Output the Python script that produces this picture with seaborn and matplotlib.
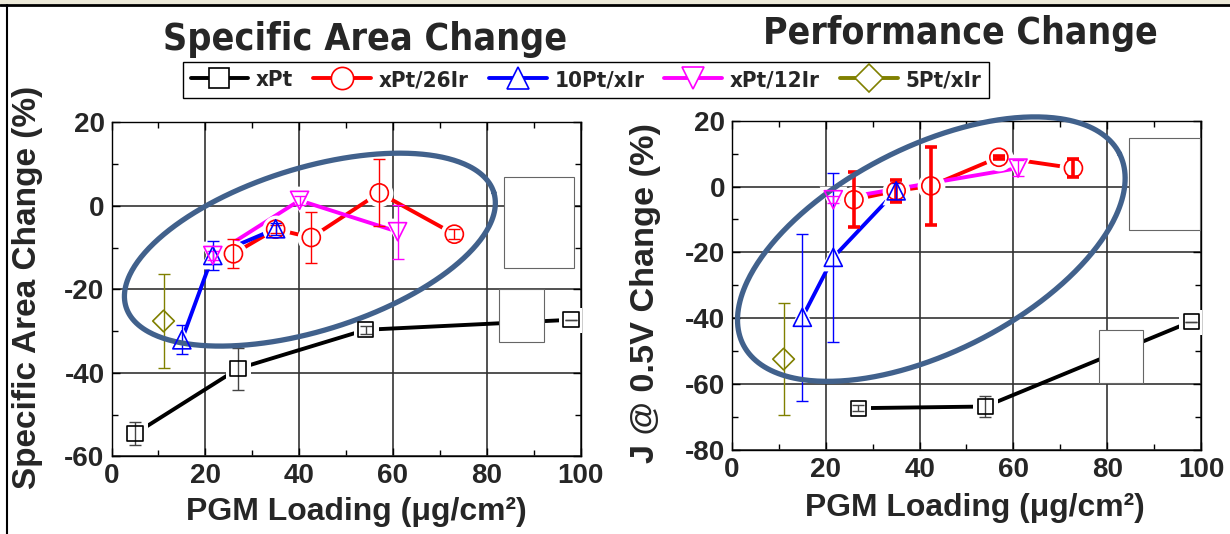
import numpy as np
import matplotlib
matplotlib.use("Agg")
import matplotlib.pyplot as plt
import seaborn as sns
from matplotlib.lines import Line2D
from matplotlib.patches import Rectangle
from matplotlib import font_manager as fm

# ---------------- data ----------------
series_names = ["xPt", "xPt/26Ir", "10Pt/xIr", "xPt/12Ir", "5Pt/xIr"]

# Specific area change (left)
sa_xpt_x = [5.0, 27.0, 54.2, 98.0]
sa_xpt_y = [-54.6, -39.0, -29.7, -27.3]
sa_xpt_e = [2.8, 5.0, 1.0, 0.0]
sa_26_x = [26.0, 35.0, 42.6, 57.1, 73.1]
sa_26_y = [-11.5, -5.6, -7.6, 3.1, -6.8]
sa_26_e = [3.5, 1.0, 6.0, 8.0, 1.2]
sa_10_x = [15.0, 21.6, 35.0]
sa_10_y = [-32.1, -11.9, -5.5]
sa_10_e = [3.5, 3.5, 1.5]
sa_12_x = [21.6, 40.1, 61.0]
sa_12_y = [-11.9, 1.3, -6.2]
sa_12_e = [1.0, 1.0, 6.5]
sa_5_x = [11.1]
sa_5_y = [-27.6]
sa_5_e = [11.2]

# J @ 0.5V change (right)
pc_xpt_x = [26.9, 54.0, 97.9]
pc_xpt_y = [-67.3, -66.8, -41.0]
pc_xpt_e = [1.0, 3.3, 0.0]
pc_26_x = [26.0, 35.0, 42.4, 56.9, 72.8]
pc_26_y = [-4.0, -1.3, 0.2, 8.9, 5.6]
pc_26_e = [8.3, 3.3, 11.8, 0.5, 2.7]
pc_10_x = [15.0, 21.6, 35.0]
pc_10_y = [-39.7, -21.5, -1.3]
pc_10_e = [25.3, 25.6, 2.5]
pc_12_x = [21.6, 61.0]
pc_12_y = [-4.0, 5.6]
pc_12_e = [1.0, 2.5]
pc_5_x = [11.0]
pc_5_y = [-52.4]
pc_5_e = [17.1]

x_ticks = [0, 20, 40, 60, 80, 100]
sa_y_ticks = [-60, -40, -20, 0, 20]
pc_y_ticks = [-80, -60, -40, -20, 0, 20]

# ---------------- styles ----------------
colors = ["#000000", "#ff0000", "#0000ff", "#ff00ff", "#808000"]
markers = ["s", "o", "^", "v", "D"]
msizes = [11, 13, 13, 13, 11]

sns.set_style("ticks")
fonts = fm.fontManager.ttflist
names = {f.name for f in fonts}
base_font = "Liberation Sans" if "Liberation Sans" in names else "DejaVu Sans"

# look for a condensed bold face for the headline-style texts
narrow_font = None
for cand in ["Liberation Sans Narrow", "Noto Sans", "Open Sans", "Roboto", "DejaVu Sans"]:
    for f in fonts:
        if f.name == cand and ("ondensed" in f.fname or "Narrow" in f.fname):
            narrow_font = cand
            break
    if narrow_font:
        break
if narrow_font is None:
    narrow_font = base_font
narrow_stretch = "normal" if narrow_font == "Liberation Sans Narrow" else "condensed"

plt.rcParams["font.family"] = [base_font, "DejaVu Sans"]
plt.rcParams["font.weight"] = "bold"
plt.rcParams["axes.unicode_minus"] = False

W, H = 1230, 534
fig = plt.figure(figsize=(W / 100, H / 100), dpi=100)
fig.patch.set_facecolor("white")

ax1 = fig.add_axes([111.5 / W, 1 - 456.3 / H, 469 / W, 334 / H])
ax2 = fig.add_axes([732 / W, 1 - 450 / H, 469 / W, 329.3 / H])


def style_axes(ax, yticks):
    ax.set_xlim(0, 100)
    ax.set_ylim(yticks[0], yticks[-1])
    ax.set_xticks(x_ticks)
    ax.set_yticks(yticks)
    ax.set_xticks(np.arange(10, 100, 20), minor=True)
    ax.set_yticks(np.arange(yticks[0] + 10, yticks[-1], 20), minor=True)
    ax.tick_params(which="both", direction="in", top=True, right=True,
                   labelsize=20, width=1.0, color="black")
    ax.tick_params(which="major", length=6, pad=5)
    ax.tick_params(which="minor", length=4)
    for lab in ax.get_xticklabels() + ax.get_yticklabels():
        lab.set_fontweight("bold")
    ax.grid(True, which="major", color="#333333", lw=1.2)
    for s in ax.spines.values():
        s.set_color("black")
        s.set_linewidth(1.0)
    ax.set_xlabel("")
    ax.set_ylabel("")


def draw_series(ax, xs, ys, es, idx, elw):
    c = colors[idx]
    m = markers[idx]
    ms = msizes[idx]
    if len(xs) > 1:
        sns.lineplot(x=xs, y=ys, ax=ax, color=c, lw=2.8, sort=False,
                     estimator=None, zorder=2, legend=False)
    # white halo to create the gap between line and marker
    sns.scatterplot(x=xs, y=ys, ax=ax, marker=m, s=(ms + 7) ** 2,
                    color="white", linewidth=0, zorder=3, legend=False)
    ecol = "#444444" if idx == 0 else c
    ax.errorbar(xs, ys, yerr=es, fmt="none", ecolor=ecol, elinewidth=elw,
                capsize=4, capthick=elw, zorder=4)
    sns.scatterplot(x=xs, y=ys, ax=ax, marker=m, s=ms ** 2,
                    facecolor="none", edgecolor=c, linewidth=1.2,
                    zorder=6, legend=False)


def draw_ellipse(ax, cx, cy, a_px, b_px, ang_deg):
    pos = ax.get_position()
    w_px = pos.width * W
    h_px = pos.height * H
    x0, x1 = ax.get_xlim()
    y0, y1 = ax.get_ylim()
    sx = w_px / (x1 - x0)
    sy = h_px / (y1 - y0)
    t = np.linspace(0, 2 * np.pi, 400)
    th = np.deg2rad(ang_deg)
    dx = a_px * np.cos(t) * np.cos(th) - b_px * np.sin(t) * np.sin(th)
    dy = a_px * np.cos(t) * np.sin(th) + b_px * np.sin(t) * np.cos(th)
    ax.plot(cx + dx / sx, cy + dy / sy, color="#41618c", lw=3.8,
            zorder=5, clip_on=False, solid_capstyle="round")


def white_box(ax, x0, y0, x1, y1):
    ax.add_patch(Rectangle((x0, y0), x1 - x0, y1 - y0, facecolor="white",
                           edgecolor="#666666", lw=0.8, zorder=7))


# ---------------- left panel ----------------
style_axes(ax1, sa_y_ticks)
left_sets = [(sa_xpt_x, sa_xpt_y, sa_xpt_e), (sa_26_x, sa_26_y, sa_26_e),
             (sa_10_x, sa_10_y, sa_10_e), (sa_12_x, sa_12_y, sa_12_e),
             (sa_5_x, sa_5_y, sa_5_e)]
for i, (xs, ys, es) in enumerate(left_sets):
    draw_series(ax1, xs, ys, es, i, 1.0)
draw_ellipse(ax1, 42.3, -10.5, 192.6, 81.3, 17.3)
white_box(ax1, 83.6, -14.9, 98.6, 7.0)
white_box(ax1, 82.7, -32.6, 92.3, -20.0)
style_axes(ax1, sa_y_ticks)

# ---------------- right panel ----------------
style_axes(ax2, pc_y_ticks)
right_sets = [(pc_xpt_x, pc_xpt_y, pc_xpt_e), (pc_26_x, pc_26_y, pc_26_e),
              (pc_10_x, pc_10_y, pc_10_e), (pc_12_x, pc_12_y, pc_12_e),
              (pc_5_x, pc_5_y, pc_5_e)]
elws = [1.0, 2.6, 1.0, 1.0, 1.0]
for i, (xs, ys, es) in enumerate(right_sets):
    draw_series(ax2, xs, ys, es, i, elws[i])
draw_ellipse(ax2, 42.5, -19.0, 211.0, 102.6, 26.9)
white_box(ax2, 84.7, -13.1, 99.8, 14.7)
white_box(ax2, 78.3, -59.8, 87.7, -43.7)
style_axes(ax2, pc_y_ticks)

# ---------------- texts ----------------
renderer = fig.canvas.get_renderer()


def fit_len(t, target_px, vertical=False):
    bb = t.get_window_extent(renderer=renderer)
    L = bb.height if vertical else bb.width
    if L > 0:
        t.set_fontsize(t.get_fontsize() * target_px / L)


narrow_family = [narrow_font, "DejaVu Sans"]
t1 = fig.text(365 / W, 1 - 40 / H, "Specific Area Change", ha="center", va="center",
              fontsize=32, fontweight="bold", family=narrow_family,
              fontstretch=narrow_stretch)
t2 = fig.text(960 / W, 1 - 34 / H, "Performance Change", ha="center", va="center",
              fontsize=32, fontweight="bold", family=narrow_family,
              fontstretch=narrow_stretch)
fit_len(t1, 404)
fit_len(t2, 396)

yl1 = fig.text(28 / W, 1 - 287 / H, "Specific Area Change (%)", rotation=90,
               ha="center", va="center", fontsize=22, fontweight="bold")
yl2 = fig.text(646 / W, 1 - 293 / H, "J @ 0.5V Change (%)", rotation=90,
               ha="center", va="center", fontsize=22, fontweight="bold")
xl1 = fig.text(356.5 / W, 1 - 512 / H, "PGM Loading (\u03bcg/cm\u00b2)", ha="center",
               va="center", fontsize=22, fontweight="bold")
xl2 = fig.text(975 / W, 1 - 508 / H, "PGM Loading (\u03bcg/cm\u00b2)", ha="center",
               va="center", fontsize=22, fontweight="bold")
fit_len(yl1, 403, vertical=True)
fit_len(yl2, 340, vertical=True)
fit_len(xl1, 341)
fit_len(xl2, 340)

# legend
handles = [Line2D([0], [0], color=colors[i], lw=2.8, marker=markers[i],
                  ms=msizes[i] + 3, mfc="white", mec=colors[i], mew=1.2)
           for i in range(len(series_names))]
leg = fig.legend(handles, series_names, loc="center", ncol=5,
                 bbox_to_anchor=(586 / W, 1 - 80 / H), frameon=True,
                 fancybox=False, edgecolor="black", framealpha=1,
                 handlelength=2.6, handletextpad=0.35, columnspacing=0.9,
                 borderpad=0.35,
                 prop={"family": narrow_family, "weight": "bold", "size": 16,
                       "stretch": narrow_stretch})
leg.get_frame().set_linewidth(1.0)

# slide decorations: top band and left border
fig.patches.append(Rectangle((0, 1 - 4 / H), 1, 4 / H, transform=fig.transFigure,
                             facecolor="#ece9d8", edgecolor="none", zorder=0))
fig.lines.append(Line2D([0, 1], [1 - 4.5 / H, 1 - 4.5 / H], transform=fig.transFigure,
                        color="black", lw=2))
fig.lines.append(Line2D([7 / W, 7 / W], [0, 1 - 4.5 / H], transform=fig.transFigure,
                        color="black", lw=1.5))

fig.savefig("out.png", dpi=100, facecolor="white")
